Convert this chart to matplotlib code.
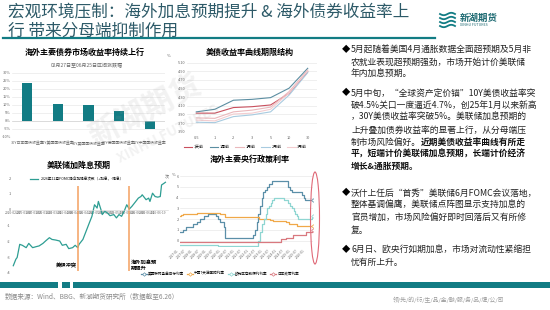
import matplotlib
matplotlib.use("Agg")
import matplotlib.pyplot as plt
import numpy as np
import pandas as pd
from matplotlib.patches import Rectangle, Ellipse
from matplotlib.lines import Line2D

plt.rcParams["font.family"] = ["Noto Sans CJK SC", "DejaVu Sans"]
plt.rcParams["axes.unicode_minus"] = False

W, H = 550, 310
TEAL = "#127c84"
GRID = "#e3e3e3"

# ---------------- data ----------------
bond_names = ["30Y日本国债收益率", "30Y美国国债收益率", "30Y英国国债收益率", "30Y德国国债收益率", "10Y中国国债收益率"]
bond_chg = [23.5, 10.9, 10.1, 6.1, -4.8]

tenors = ["0.5", "1", "2", "3", "5", "10", "30"]
curve_labels = ["1天前", "1周前", "1月前", "2月前", "3月前"]
curve_1d = [3.93, 3.93, 4.06, 4.08, 4.12, 4.39, 4.89]
curve_1w = [3.96, 4.02, 4.23, 4.25, 4.29, 4.51, 4.97]
curve_1m = [3.82, 3.81, 3.96, 4.00, 4.07, 4.43, 4.93]
curve_2m = [3.72, 3.71, 3.85, 3.89, 3.96, 4.35, 4.87]
curve_3m = [3.77, 3.75, 3.91, 3.93, 4.02, 4.40, 4.91]
curve_colors = ["#c9505e", "#5b8ea2", "#eab8bc", "#a8cbe0", "#f3cdd0"]

fomc_start = "2026-02-27"
fomc_days = [0, 2, 3, 5, 7, 10, 12, 15, 18, 20, 23, 25, 28, 30, 33, 36, 38, 41, 43, 46,
             48, 50, 51, 54, 56, 57, 59, 61, 63, 64, 65, 66, 68, 69, 71, 73, 75, 78, 80, 82,
             84, 86, 88, 90, 92, 95, 97, 99, 100, 103, 105, 106, 108, 110, 112, 114, 115, 117, 118]
fomc_hikes = [-3.54, -3.13, -3.02, -2.19, -2.25, -2.40, -2.13, -2.40, -2.33, -2.29,
              -2.13, -1.98, -1.77, -1.88, -1.92, -1.98, -2.25, -2.19, -2.46, -2.40,
              -2.25, -2.40, -2.19, -1.88, -1.46, -1.25, -0.83, -0.42, 0.31, 0.21,
              0.10, 0.52, 0.00, -0.31, -0.10, -0.21, -0.38, -0.31, -0.52, -0.31,
              -0.42, -0.10, 0.31, 0.04, 0.21, 0.52, 0.73, 0.83, 0.94, 0.63,
              0.73, 0.52, 1.04, 0.83, 0.79, 0.83, 1.56, 1.67, 1.73]
event_names = ["美伊冲突", "海外加息预\n期提升"]
event_dates = ["2026-04-18", "2026-05-28"]

fed_dates = ["2017-01-01", "2017-03-16", "2017-06-15", "2017-12-14", "2018-03-22", "2018-06-14",
             "2018-09-27", "2018-12-20", "2019-08-01", "2019-09-19", "2019-10-31", "2020-03-04",
             "2020-03-16", "2022-03-17", "2022-05-05", "2022-06-16", "2022-07-28", "2022-09-22",
             "2022-11-03", "2022-12-15", "2023-02-02", "2023-03-23", "2023-05-04", "2023-07-27",
             "2024-09-19", "2024-11-08", "2024-12-19", "2025-09-18", "2025-10-30", "2025-12-11"]
fed_rate = [0.75, 1.0, 1.25, 1.5, 1.75, 2.0, 2.25, 2.5, 2.25, 2.0, 1.75, 1.25, 0.25, 0.5, 1.0,
            1.75, 2.5, 3.25, 4.0, 4.5, 4.75, 5.0, 5.25, 5.5, 5.0, 4.75, 4.5, 4.25, 4.0, 3.75]
cn_dates = ["2017-01-01", "2017-02-03", "2017-03-16", "2017-12-14", "2018-03-22", "2019-11-18",
            "2020-03-30", "2022-08-15", "2023-06-13", "2023-08-15", "2024-07-22", "2024-09-27", "2025-05-08"]
cn_rate = [2.25, 2.35, 2.45, 2.5, 2.55, 2.5, 2.2, 2.0, 1.9, 1.8, 1.7, 1.5, 1.4]
ecb_dates = ["2017-01-01", "2019-09-18", "2022-07-27", "2022-09-14", "2022-11-02", "2022-12-21",
             "2023-02-08", "2023-03-22", "2023-05-10", "2023-06-21", "2023-08-02", "2023-09-20",
             "2024-06-12", "2024-09-18", "2024-10-23", "2024-12-18", "2025-02-05", "2025-03-12",
             "2025-04-23", "2025-06-11", "2026-06-11"]
ecb_rate = [-0.4, -0.5, 0.0, 0.75, 1.5, 2.0, 2.5, 3.0, 3.25, 3.5, 3.75, 4.0, 3.75, 3.5, 3.25,
            3.0, 2.75, 2.5, 2.25, 2.0, 2.25]
boj_dates = ["2017-01-01", "2024-03-19", "2024-07-31", "2025-01-24", "2025-12-19", "2026-06-16"]
boj_rate = [-0.1, 0.1, 0.25, 0.5, 0.75, 1.0]
rate_end = "2026-06-26"
rate_labels = ["美国联邦基金目标利率", "中国7天逆回购利率", "欧元区存款便利利率", "日本政策利率"]
rate_colors = ["#5b8fa8", "#f0a848", "#8fd6d2", "#d9787f"]

paragraphs = [
    [["5月起随着美国4月通胀数据全面超预期及5月非"],
     ["农就业表现超预期强劲，市场开始计价美联储"],
     ["年内加息预期。"]],
    [["5月中旬，“全球资产定价锚”10Y美债收益率突"],
     ["破4.5%关口一度逼近4.7%，创25年1月以来新高"],
     ["，30Y美债收益率突破5%。美联储加息预期的"],
     ["上升叠加债券收益率的显著上行，从分母端压"],
     ["制市场风险偏好。", "近期美债收益率曲线有所走"],
     ["", "平，短端计价美联储加息预期，长端计价经济"],
     ["", "增长&通胀预期。"]],
    [["沃什上任后“首秀”美联储6月FOMC会议落地，"],
     ["整体基调偏鹰，美联储点阵图显示支持加息的"],
     ["官员增加，市场风险偏好即时回落后又有所修"],
     ["复。"]],
    [["6月日、欧央行如期加息，市场对流动性紧缩担"],
     ["忧有所上升。"]],
]
para_top = [50, 93, 193, 250]

# ---------------- helpers ----------------
fig = plt.figure(figsize=(W / 100, H / 100), dpi=100)
fig.patch.set_facecolor("white")


def fx(x):
    return x / W


def fy(y):
    return 1 - y / H


def ax_at(x0, y0, x1, y1):
    return fig.add_axes([fx(x0), fy(y1), (x1 - x0) / W, (y1 - y0) / H])


def clean(ax):
    for s in ax.spines.values():
        s.set_visible(False)
    ax.tick_params(length=0, labelsize=2.8, colors="#666666", pad=1)


# ---------------- header ----------------
fig.text(fx(8), fy(13), "宏观环境压制：海外加息预期提升 & 海外债券收益率上",
         fontsize=12, color="#2d5a68", va="center")
fig.text(fx(8), fy(31), "行 带来分母端抑制作用", fontsize=12, color="#2d5a68", va="center")
fig.add_artist(Line2D([fx(3), fx(435)], [fy(38), fy(38)], color=TEAL, lw=1.6))

# logo
t = np.linspace(0, 1, 30)
for k in range(4):
    fig.add_artist(Line2D(fx(440 + 15 * t), fy(14 + 4 * k + 1.2 * np.sin(t * 2 * np.pi)),
                          color=TEAL, lw=1.3))
fig.text(fx(460), fy(18), "新湖期货", fontsize=6.8, color="#1d6a72", weight="bold", va="center")
fig.text(fx(460), fy(25.5), "XINHU FUTURES", fontsize=2.6, color="#1d6a72", va="center")

# ---------------- chart 1: bond yields change ----------------
fig.text(fx(85), fy(52), "海外主要债券市场收益率持续上行", fontsize=5.8, weight="bold",
         ha="center", va="center")
fig.text(fx(87), fy(65), "02月27日至06月25日区间涨跌幅", fontsize=3.6, color="#666666",
         ha="center", va="center")
ax1 = ax_at(12, 73, 165, 137)
ax1.bar(range(len(bond_names)), bond_chg, width=0.33, color=TEAL, zorder=2)
ax1.set_ylim(-10, 30)
ax1.set_xlim(-0.5, len(bond_names) - 0.5)
ax1.set_yticks(range(-10, 31, 5))
ax1.set_yticklabels([f"{v}%" for v in range(-10, 31, 5)])
ax1.set_xticks(range(len(bond_names)))
ax1.set_xticklabels(bond_names)
ax1.grid(axis="y", color=GRID, lw=0.4)
clean(ax1)
ax1.tick_params(axis="x", pad=3)
ax1.axhline(0, color="#cccccc", lw=0.4)

# ---------------- chart 2: UST curve ----------------
fig.text(fx(250), fy(52), "美债收益率曲线期限结构", fontsize=5.8, weight="bold",
         ha="center", va="center")
ax2 = ax_at(187, 62.7, 317, 131.7)
curves = [curve_1d, curve_1w, curve_1m, curve_2m, curve_3m]
for vals, lab, col in zip(curves, curve_labels, curve_colors):
    ax2.plot(range(len(tenors)), vals, color=col, lw=0.8, label=lab)
ax2.set_ylim(3.5, 5.1)
ax2.set_xlim(-0.5, len(tenors) - 0.5)
ax2.set_yticks(np.arange(3.5, 5.11, 0.2))
ax2.set_yticklabels([f"{v:.2f}" for v in np.arange(3.5, 5.11, 0.2)])
ax2.set_xticks(range(len(tenors)))
ax2.set_xticklabels(tenors)
ax2.grid(axis="y", color=GRID, lw=0.4)
clean(ax2)
ax2.tick_params(axis="x", pad=3)
fig.text(fx(167), fy(56), "%", fontsize=3, color="#666666", va="center")
ax2.legend(loc="center", bbox_to_anchor=(0.45, -0.22), ncol=5, fontsize=2.8, frameon=False,
           handlelength=2.2, columnspacing=1.5, handletextpad=0.4)

# ---------------- chart 3: FOMC expectations ----------------
fig.text(fx(79), fy(165), "美联储加降息预期", fontsize=5.8, weight="bold", ha="center", va="center")
ax3 = ax_at(12, 178, 168, 273)
fdates = pd.Timestamp(fomc_start) + pd.to_timedelta(fomc_days, unit="D")
ax3.plot(fdates, fomc_hikes, color="#2e9e93", lw=0.9, label="2026年12月FOMC隐含加降息次数（+加息，-降息）")
for name, d in zip(event_names, event_dates):
    ax3.vlines(pd.Timestamp(d), -3.9, 1.5, color="#f4a060", lw=1.1)
ax3.text(pd.Timestamp(event_dates[0]) - pd.Timedelta(days=1), -3.54, event_names[0],
         fontsize=3.8, weight="bold", ha="right", va="center")
ax3.text(pd.Timestamp(event_dates[1]) + pd.Timedelta(days=1), -3.5, event_names[1],
         fontsize=3.8, weight="bold", ha="left", va="center", linespacing=1.3)
ax3.set_ylim(-4, 2)
ax3.set_xlim(fdates[0] - pd.Timedelta(days=1), fdates[-1] + pd.Timedelta(days=2))
ax3.set_yticks(range(-4, 3))
ticks3 = pd.date_range(fomc_start, periods=15, freq="8D")
ax3.set_xticks(ticks3)
ax3.set_xticklabels([d.strftime("%Y-%m-%d") for d in ticks3], rotation=45, ha="right")
clean(ax3)
ax3.tick_params(axis="x", labelsize=2.3)
ax3.spines["bottom"].set_visible(True)
ax3.spines["bottom"].set_position(("data", 0))
ax3.spines["bottom"].set_color("#d0d0d0")
ax3.spines["bottom"].set_linewidth(0.4)
ax3.legend(loc="upper center", bbox_to_anchor=(0.42, 1.04), fontsize=2.6, frameon=False,
           handlelength=2.2)
fig.text(fx(165), fy(177), "次", fontsize=3, color="#666666", va="center")

# ---------------- chart 4: policy rates ----------------
fig.text(fx(250), fy(159), "海外主要央行政策利率", fontsize=5.8, weight="bold", ha="center", va="center")
ax4 = ax_at(180, 175, 313, 247)
end = pd.Timestamp(rate_end)
for dates, vals, lab, col in zip([fed_dates, cn_dates, ecb_dates, boj_dates],
                                 [fed_rate, cn_rate, ecb_rate, boj_rate], rate_labels, rate_colors):
    s = pd.Series(vals, index=pd.to_datetime(dates))
    s.loc[end] = vals[-1]
    ax4.plot(s.index, s.values, drawstyle="steps-post", color=col, lw=0.9,
             marker="D", markevery=[len(s) - 1], ms=1.8, mfc="white", mec=col, mew=0.5, label=lab)
ax4.set_ylim(-0.6, 6.1)
ax4.set_xlim(pd.Timestamp("2017-01-01"), end)
ax4.set_yticks(range(0, 7))
ticks4 = pd.date_range("2017-01-01", "2026-06-01", freq="6MS")
ax4.set_xticks(ticks4)
ax4.set_xticklabels([d.strftime("%Y-%m") for d in ticks4], rotation=45, ha="right")
ax4.grid(axis="y", color=GRID, lw=0.4)
clean(ax4)
ax4.tick_params(axis="x", labelsize=2.3)
fig.text(fx(172), fy(175), "%", fontsize=3, color="#666666", va="center")
ax4.legend(loc="center", bbox_to_anchor=(0.3, -0.37), ncol=4, fontsize=2.6, frameon=False,
           handlelength=1.6, columnspacing=0.8, handletextpad=0.3)
fig.add_artist(Ellipse((fx(315), fy(218)), 9 / W, 92 / H, fill=False, ec="#e06a78", lw=0.8))

# ---------------- text panel ----------------
renderer = fig.canvas.get_renderer()
line_gap = 12.3
for top, para in zip(para_top, paragraphs):
    fig.text(fx(342), fy(top), "◆", fontsize=6, va="center")
    for i, segs in enumerate(para):
        y = top + i * line_gap
        x = fx(351)
        normal = segs[0]
        if normal:
            tn = fig.text(x, fy(y), normal, fontsize=6.3, color="#222222", va="center")
            x = tn.get_window_extent(renderer=renderer).x1 / fig.bbox.width
        if len(segs) > 1:
            fig.text(x, fy(y), segs[1], fontsize=6.3, color="#111111", weight="bold", va="center")

# ---------------- footer ----------------
for x0, x1 in [(0, 58), (62, 70), (73, 550)]:
    fig.add_artist(Rectangle((fx(x0), fy(288)), (x1 - x0) / W, 6 / H, color=TEAL, lw=0))
fig.text(fx(5), fy(297), "数据来源：Wind、BBG、新湖期货研究所（数据截至6.26）",
         fontsize=4.8, color="#8a8a8a", va="center")
fig.text(fx(393), fy(300), "领/先/的/衍/生/品/金/融/服/务/品/牌/公/司",
         fontsize=4.2, color="#9a9a9a", va="center")

# watermark
fig.text(fx(145), fy(110), "新湖期货", fontsize=22, weight="bold", color="#9a9a9a", alpha=0.13,
         rotation=27, ha="center", va="center")
fig.text(fx(168), fy(134), "XINHU FUTURES", fontsize=10, weight="bold", color="#9a9a9a", alpha=0.13,
         rotation=27, ha="center", va="center")

fig.savefig("out.png", dpi=100)
